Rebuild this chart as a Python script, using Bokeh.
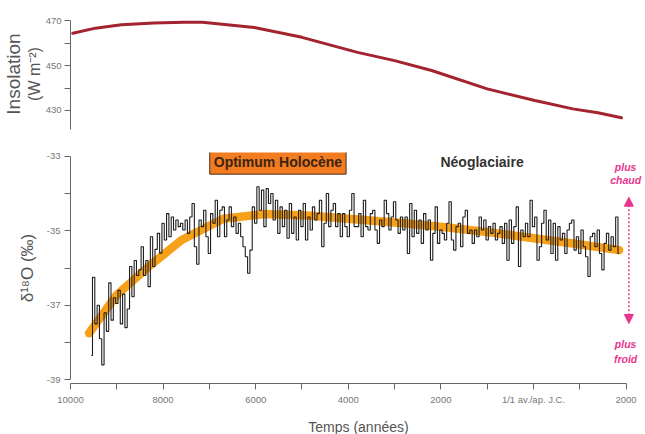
import numpy as np
from bokeh.plotting import figure
from bokeh.models import Range1d, FixedTicker, Label, Arrow, NormalHead, Title
from bokeh.layouts import column
from bokeh.embed import file_html
from bokeh.resources import INLINE

# ---------------- data ----------------
ins_years = [-9950, -9460, -8900, -8200, -7550, -7150, -6030, -5000, -3800, -3000,
             -2200, -1000, 30, 850, 1390, 1900]
ins_vals = [464.4, 466.7, 468.2, 469.0, 469.3, 469.3, 467.0, 462.6, 455.9, 452.2,
            447.8, 439.6, 434.4, 430.7, 429.0, 426.7]

trend_years = [-9600, -9000, -8300, -7600, -6700, -5800, -4800, -3800, -2800, -1800,
               -900, 0, 900, 1850]
trend_vals = [-37.75, -36.72, -35.95, -35.25, -34.68, -34.55, -34.60, -34.70, -34.80,
              -34.92, -35.05, -35.20, -35.35, -35.52]

d18o_start = -9550
d18o_step = 50
d18o_vals = [
    -38.35, -36.25, -37.5, -37.0, -37.9, -38.6, -37.2, -37.7, -36.4, -37.4,
    -36.8, -36.95, -36.6, -37.5, -36.7, -37.6, -37.1, -35.96, -36.77, -35.8,
    -36.2, -36.05, -35.43, -36.2, -35.8, -36.5, -35.16, -35.96, -35.5, -35.07,
    -35.6, -34.8, -35.25, -34.54, -35.16, -34.63, -34.98, -34.71, -34.89, -34.8,
    -34.98, -34.71, -35.07, -34.63, -34.27, -35.43, -35.9, -34.71, -34.89, -34.45,
    -35.16, -35.61, -34.54, -34.8, -34.18, -35.16, -34.45,
    -34.36, -35.16, -34.71, -34.36, -34.89, -34.63, -35.07, -34.80, -35.16, -35.43,
    -35.70, -36.14, -35.52, -34.36, -34.80, -33.82, -34.45, -33.91, -34.89, -33.87,
    -34.27, -34.00, -34.71, -34.18, -35.07, -34.36, -34.89, -34.45, -35.20, -34.27,
    -35.07, -34.63, -35.25, -34.45, -34.89, -34.27, -35.25, -34.63, -34.98, -34.36,
    -34.71, -34.54, -34.18, -35.43, -34.80, -34.00, -34.89, -34.45, -34.27, -34.89,
    -34.54, -35.16, -34.54, -34.89, -35.16, -34.45, -34.00, -34.89,
    -34.89, -34.54, -35.16, -34.18, -34.89, -34.98, -34.54, -34.45, -34.98, -35.34,
    -34.71, -34.89, -34.18, -34.54, -34.98, -34.63, -34.22, -34.71, -35.07, -34.63,
    -34.98, -34.63, -35.61, -34.27, -35.16, -34.45, -35.07, -34.71, -35.34, -34.54,
    -34.98, -34.71, -35.79, -35.07, -34.36, -35.34, -34.98, -35.07, -35.25, -34.80,
    -34.22, -35.25, -35.52, -34.89, -34.80, -35.43, -34.63, -34.45, -35.07, -34.98,
    -35.34, -34.98, -35.16, -34.63, -34.98, -34.71, -35.25, -34.89,
    -35.07, -34.80, -35.25, -35.07, -34.89, -35.34, -34.80, -35.79, -34.71, -35.34,
    -34.89, -34.36, -35.96, -34.98, -35.16, -34.80, -35.16, -34.18, -34.89, -34.63,
    -35.79, -35.43, -34.80, -34.45, -35.25, -34.71, -35.61, -34.80, -35.79, -34.89,
    -35.25, -35.07, -35.61, -34.98, -34.80, -34.71, -35.52, -35.16, -35.61, -34.98,
    -35.43, -35.70, -36.23, -35.16, -35.07, -35.43, -34.98, -35.61, -36.05, -35.34,
    -35.07, -35.52, -35.16, -35.43, -34.63, -35.61,
]
d18o_years = [d18o_start + i * d18o_step for i in range(len(d18o_vals))]

x_ticks = [-10000, -9000, -8000, -7000, -6000, -5000, -4000, -3000, -2000, -1000, 0, 1000, 2000]
x_tick_labels = ["10000", "", "8000", "", "6000", "", "4000", "", "2000", "",
                 "1/1 av./ap. J.C.", "", "2000"]
ins_ticks = [430, 440, 450, 460, 470]
ins_tick_labels = ["430", "", "450", "", "470"]
d18o_ticks = [-39, -38, -37, -36, -35, -34, -33]
d18o_tick_labels = ["-39", "", "-37", "", "-35", "", "-33"]

# ---------------- styling ----------------
FONT = "Liberation Sans"
AX = "#666666"
TICKC = "#777777"
LABC = "#555555"
PINK = "#e8368f"
XR = (-10000, 2441)
LEFT = 67
FW = 576


def style_axis(ax, standoff=4):
    ax.axis_line_color = AX
    ax.major_tick_line_color = AX
    ax.major_tick_out = 6
    ax.major_tick_in = 0
    ax.minor_tick_out = 0
    ax.minor_tick_in = 0
    ax.major_label_text_font = FONT
    ax.major_label_text_font_size = "9.5px"
    ax.major_label_text_color = TICKC
    ax.major_label_standoff = standoff


# ---------------- top panel ----------------
p1 = figure(frame_width=FW, frame_height=111, x_range=Range1d(*XR),
            y_range=Range1d(421.5, 471), output_backend="svg", toolbar_location=None,
            min_border_left=LEFT, min_border_right=0, min_border_top=18,
            min_border_bottom=5, x_axis_location=None)
p1.outline_line_color = None
p1.grid.visible = False
ya = p1.yaxis[0]
style_axis(ya, standoff=3)
ya.ticker = FixedTicker(ticks=ins_ticks)
ya.major_label_overrides = dict(zip(ins_ticks, ins_tick_labels))
ya.bounds = (421.5, 470)

p1.line(ins_years, ins_vals, line_color="#a3232e", line_width=3, line_cap="round")

p1.add_layout(Title(text="(W m⁻²)", align="center", text_font=FONT, text_font_size="16px",
                    text_font_style="normal", text_color=LABC, standoff=0, offset=12), "left")
p1.add_layout(Title(text="Insolation", align="center", text_font=FONT, text_font_size="19px",
                    text_font_style="normal", text_color=LABC, standoff=0, offset=11), "left")

# ---------------- bottom panel ----------------
p2 = figure(frame_width=FW, frame_height=231, x_range=Range1d(*XR),
            y_range=Range1d(-39.1, -32.9), output_backend="svg", toolbar_location=None,
            min_border_left=LEFT, min_border_right=0, min_border_top=18,
            min_border_bottom=48)
p2.outline_line_color = None
p2.grid.visible = False

xa = p2.xaxis[0]
style_axis(xa)
xa.ticker = FixedTicker(ticks=x_ticks)
xa.major_label_overrides = dict(zip(x_ticks, x_tick_labels))
xa.bounds = (-10000, 2000)
xa.axis_label = "Temps (années)"
xa.axis_label_text_font = FONT
xa.axis_label_text_font_size = "14px"
xa.axis_label_text_font_style = "normal"
xa.axis_label_text_color = LABC
xa.axis_label_standoff = 11

ya2 = p2.yaxis[0]
style_axis(ya2)
ya2.ticker = FixedTicker(ticks=d18o_ticks)
ya2.major_label_overrides = dict(zip(d18o_ticks, d18o_tick_labels))
ya2.bounds = (-39, -33)
ya2.axis_label = "δ¹⁸O (‰)"
ya2.axis_label_text_font = FONT
ya2.axis_label_text_font_size = "17px"
ya2.axis_label_text_font_style = "normal"
ya2.axis_label_text_color = LABC
ya2.axis_label_standoff = 7

p2.line(trend_years, trend_vals, line_color="#f7a11a", line_width=8.5,
        line_cap="round", line_join="round")
p2.step(d18o_years, d18o_vals, mode="center", line_color="#1e1e1e", line_width=1.1)

p2.add_layout(Label(x=-5520, y=-33.16, text="Optimum Holocène", text_align="center",
                    text_baseline="middle", text_font=FONT, text_font_size="14px",
                    text_font_style="bold", text_color="#3b2412",
                    background_fill_color="#f47c20", border_line_color="#4a3020",
                    border_line_width=1, padding=4))
p2.add_layout(Label(x=-1110, y=-33.16, text="Néoglaciaire", text_align="center",
                    text_baseline="middle", text_font=FONT, text_font_size="14px",
                    text_font_style="bold", text_color="#333333"))

for txt, yy in [("plus", -33.276), ("chaud", -33.65), ("plus", -38.05), ("froid", -38.43)]:
    p2.add_layout(Label(x=1990, y=yy, text=txt, text_align="center", text_baseline="middle",
                        text_font=FONT, text_font_size="10.5px", text_font_style="bold italic",
                        text_color=PINK))

p2.add_layout(Arrow(x_start=2060, y_start=-34.10, x_end=2060, y_end=-37.49,
                    line_color=PINK, line_width=1.5, line_dash="2 2",
                    start=NormalHead(size=9, fill_color=PINK, line_color=PINK, line_dash="solid"),
                    end=NormalHead(size=9, fill_color=PINK, line_color=PINK, line_dash="solid")))

layout = column(p1, p2)
open("out.html", "w").write(file_html(layout, INLINE))
